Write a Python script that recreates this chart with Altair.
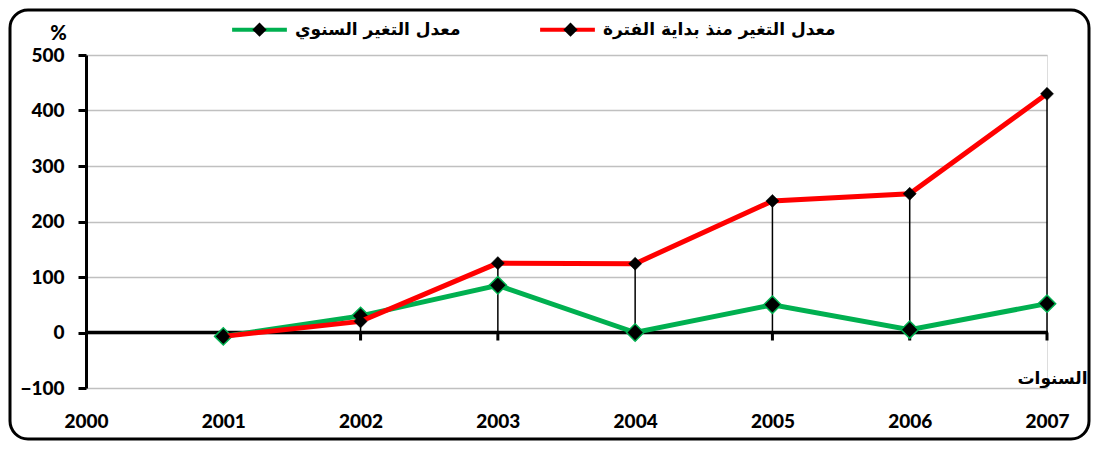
import altair as alt
import pandas as pd

years = [2001, 2002, 2003, 2004, 2005, 2006, 2007]
cum_change = [-7, 20, 125, 124, 237, 250, 430]
annual_change = [-7, 30, 85, 0, 50, 5, 52]
label_cum = "معدل التغير منذ بداية الفترة"
label_annual = "معدل التغير السنوي"
x_ticks = [2000, 2001, 2002, 2003, 2004, 2005, 2006, 2007]
y_ticks = [-100, 0, 100, 200, 300, 400, 500]
x_title = "السنوات"
y_title = "%"

GREEN = "#00B050"
RED = "#FF0000"
W, H = 961, 333

df = pd.DataFrame({
    "year": years * 2,
    "value": annual_change + cum_change,
    "series": [label_annual] * len(years) + [label_cum] * len(years),
    "key": ["g"] * len(years) + ["r"] * len(years),
})
drop_df = pd.DataFrame({"year": years, "value": cum_change})
tick_df = pd.DataFrame({"year": years})
one_df = pd.DataFrame({"a": [0]})

num_font = "Lato"
ar_font = "DejaVu Sans"
NUM_W = 900

x_axis = alt.Axis(values=x_ticks, format="d", domain=False, ticks=False, grid=False,
                  labelPadding=24, labelFont=num_font, labelFontSize=19, labelFontWeight=NUM_W,
                  labelColor="black", labelFlush=False, labelOverlap=False,
                  title=x_title, titleAlign="right", titleX=1001, titleY=-5,
                  titleBaseline="alphabetic", titleFont=ar_font, titleFontSize=17,
                  titleFontWeight="bold", titleColor="black")
y_axis = alt.Axis(values=y_ticks, domainColor="black", domainWidth=3, tickColor="black",
                  tickWidth=3, tickSize=8, labelPadding=14, labelFont=num_font, labelFontSize=19,
                  labelFontWeight=NUM_W, labelColor="black",
                  gridColor="#c0c0c0", gridWidth=1.5,
                  title=y_title, titleAngle=0, titleX=-28, titleY=-22, titleAlign="center",
                  titleBaseline="middle", titleFont=num_font, titleFontSize=20,
                  titleFontWeight=NUM_W, titleColor="black")

xs = alt.Scale(domain=[2000, 2007], nice=False, zero=False)
ys = alt.Scale(domain=[-100, 500], nice=False, zero=False)


def X():
    return alt.X("year:Q", scale=xs, axis=x_axis)


def Y():
    return alt.Y("value:Q", scale=ys, axis=y_axis)


legend_common = dict(orient="none", legendX=144, legendY=-55, direction="horizontal", title=None,
                     symbolSize=3000, symbolStrokeWidth=4,
                     labelFont=ar_font, labelFontSize=17, labelFontWeight="bold",
                     labelOffset=6, labelLimit=400)

color = alt.Color("series:N",
                  scale=alt.Scale(domain=[label_annual, label_cum], range=[GREEN, RED]),
                  legend=alt.Legend(symbolType="M-1,0H1", labelColor="black", columnPadding=71,
                                    **legend_common))
stroke = alt.Stroke("series:N",
                    scale=alt.Scale(domain=[label_annual, label_cum], range=[GREEN, RED]),
                    legend=None)
fill = alt.Fill("key:N",
                scale=alt.Scale(domain=["g", "r"], range=["black", "black"]),
                legend=alt.Legend(symbolType="M0,-0.26L0.26,0L0,0.26L-0.26,0Z",
                                  symbolFillColor="black", symbolStrokeColor="transparent",
                                  labelColor="black", labelExpr="''", columnPadding=246,
                                  **legend_common))

border = alt.Chart(one_df).mark_rect(filled=False, stroke="black", strokeWidth=3,
                                     cornerRadius=18).encode(
    x=alt.value(-76), x2=alt.value(1003), y=alt.value(-45), y2=alt.value(384))

drops = alt.Chart(drop_df).mark_rule(color="black", strokeWidth=1.5).encode(
    x=X(), y=Y(), y2=alt.datum(0))

zero = alt.Chart(one_df).mark_rule(color="black", strokeWidth=3.5).encode(
    y=alt.datum(0, scale=ys), x=alt.value(0), x2=alt.value(W + 1))

ticks = alt.Chart(tick_df).mark_rule(color="black", strokeWidth=3, y2Offset=8).encode(
    x=X(), y=alt.datum(0), y2=alt.datum(0))

green_df = df[df.key == "g"]
red_df = df[df.key == "r"]

green_line = alt.Chart(green_df).mark_line(strokeWidth=5).encode(x=X(), y=Y(), color=color)
green_pts = alt.Chart(green_df).mark_point(shape="diamond", filled=True, size=300,
                                            strokeWidth=1.5, opacity=1).encode(
    x=X(), y=Y(), stroke=stroke, fill=fill)
red_line = alt.Chart(red_df).mark_line(strokeWidth=5).encode(x=X(), y=Y(), color=color)
red_pts = alt.Chart(red_df).mark_point(shape="diamond", filled=True, size=170,
                                        strokeWidth=0.5, opacity=1).encode(
    x=X(), y=Y(), stroke=alt.value("black"), fill=fill)

chart = alt.layer(border, drops, zero, ticks, green_line, green_pts, red_line, red_pts).properties(
    width=W, height=H,
    padding={"left": 78, "top": 47, "right": 44, "bottom": 53},
    autosize=alt.AutoSizeParams(type="none"),
).configure_view(stroke=None).configure(background="white")

chart.save("out.html", embed_options={"renderer": "svg", "actions": False})
